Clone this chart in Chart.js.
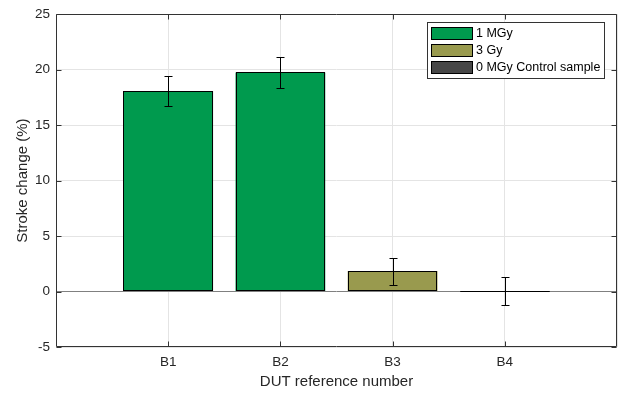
<!DOCTYPE html>
<html>
<head>
<meta charset="utf-8">
<script src="https://cdn.jsdelivr.net/npm/chart.js@4.4.1/dist/chart.umd.min.js"></script>
<style>
  html, body { margin: 0; padding: 0; background: #fff; }
  #wrap { width: 624px; height: 395px; }
</style>
</head>
<body>
<div id="wrap"><canvas id="chart" width="624" height="395"></canvas></div>
<script>
var categories = ['B1', 'B2', 'B3', 'B4'];
var strokeChange = [18.08, 19.74, 1.84, 0.03];   // mean stroke change, %
var strokeError = [1.38, 1.41, 1.21, 1.27];      // +/- error, %
var seriesNames = ['1 MGy', '3 Gy', '0 MGy Control sample'];
var seriesColors = ['#009a4e', '#999a4e', '#474747'];
var barSeries = [0, 0, 1, 2];                    // dose series of each DUT
var yTicks = [-5, 0, 5, 10, 15, 20, 25];

var FONT = "'Liberation Sans', Arial, Helvetica, sans-serif";
var AXIS_COLOR = '#333333';
var GRID_COLOR = '#e4e4e4';

Chart.defaults.font.family = FONT;
Chart.defaults.color = '#262626';

// one dataset per dose so the legend gets one entry each; bars sit at x = 1..4
var datasets = seriesNames.map(function (name, s) {
  var pts = [];
  categories.forEach(function (c, i) {
    if (barSeries[i] === s) pts.push({ x: i + 1, y: strokeChange[i] });
  });
  return {
    label: name,
    data: pts,
    backgroundColor: seriesColors[s],
    borderWidth: 0,
    grouped: false,
    barPercentage: 0.8,
    categoryPercentage: 1
  };
});

// black outline around every bar, kept even when the bar is almost flat
var barOutline = {
  id: 'barOutline',
  afterDatasetsDraw: function (chart) {
    var ctx = chart.ctx;
    ctx.save();
    ctx.strokeStyle = '#000000';
    ctx.lineWidth = 1;
    chart.data.datasets.forEach(function (ds, d) {
      chart.getDatasetMeta(d).data.forEach(function (bar) {
        var p = bar.getProps(['x', 'y', 'base', 'width'], true);
        var l = Math.round(p.x - p.width / 2) + 0.5;
        var r = Math.round(p.x + p.width / 2) - 0.5;
        var t = Math.round(Math.min(p.y, p.base)) + 0.5;
        var b = Math.round(Math.max(p.y, p.base)) - 0.5;
        if (b < t) b = t;
        ctx.strokeRect(l, t, r - l, b - t);
      });
    });
    ctx.restore();
  }
};

// error bars drawn over the bars
var errorBars = {
  id: 'errorBars',
  afterDatasetsDraw: function (chart) {
    var ctx = chart.ctx, xs = chart.scales.x, ys = chart.scales.y;
    ctx.save();
    ctx.strokeStyle = '#000000';
    ctx.lineWidth = 1;
    strokeChange.forEach(function (v, i) {
      var x = Math.round(xs.getPixelForValue(i + 1)) + 0.5;
      var yt = Math.round(ys.getPixelForValue(v + strokeError[i])) + 0.5;
      var yb = Math.round(ys.getPixelForValue(v - strokeError[i])) + 0.5;
      ctx.beginPath();
      ctx.moveTo(x, yt); ctx.lineTo(x, yb);
      ctx.moveTo(x - 4, yt); ctx.lineTo(x + 4, yt);
      ctx.moveTo(x - 4, yb); ctx.lineTo(x + 4, yb);
      ctx.stroke();
    });
    ctx.restore();
  }
};

// closed axes box with inward ticks on all four sides
var axesBox = {
  id: 'axesBox',
  afterDatasetsDraw: function (chart) {
    var ctx = chart.ctx, a = chart.chartArea, xs = chart.scales.x, ys = chart.scales.y;
    var L = Math.round(a.left) + 0.5, R = Math.round(a.right) - 0.5;
    var T = Math.round(a.top) + 0.5, B = Math.round(a.bottom) - 0.5;
    var tl = 5;
    ctx.save();
    ctx.strokeStyle = AXIS_COLOR;
    ctx.lineWidth = 1;
    ctx.beginPath();
    ctx.rect(L, T, R - L, B - T);
    yTicks.forEach(function (t) {
      var y = Math.round(ys.getPixelForValue(t)) + 0.5;
      ctx.moveTo(L, y); ctx.lineTo(L + tl, y);
      ctx.moveTo(R, y); ctx.lineTo(R - tl, y);
    });
    categories.forEach(function (c, i) {
      var x = Math.round(xs.getPixelForValue(i + 1)) + 0.5;
      ctx.moveTo(x, B); ctx.lineTo(x, B - tl);
      ctx.moveTo(x, T); ctx.lineTo(x, T + tl);
    });
    ctx.stroke();
    ctx.restore();
  }
};

// legend box in the upper right corner of the axes
var boxLegend = {
  id: 'boxLegend',
  afterDraw: function (chart) {
    var ctx = chart.ctx;
    var bx = 427.5, by = 22.5, bw = 177, bh = 56;
    ctx.save();
    ctx.fillStyle = '#ffffff';
    ctx.fillRect(bx, by, bw, bh);
    ctx.strokeStyle = AXIS_COLOR;
    ctx.lineWidth = 1;
    ctx.strokeRect(bx, by, bw, bh);
    ctx.font = '12.5px ' + FONT;
    ctx.textBaseline = 'middle';
    ctx.textAlign = 'left';
    chart.data.datasets.forEach(function (ds, i) {
      var sy = 27.5 + i * 17;
      ctx.fillStyle = ds.backgroundColor;
      ctx.fillRect(432, sy, 41, 12);
      ctx.strokeStyle = '#000000';
      ctx.strokeRect(431.5, sy, 41, 12);
      ctx.fillStyle = '#000000';
      ctx.fillText(ds.label, 476, sy + 6.5);
    });
    ctx.restore();
  }
};

new Chart(document.getElementById('chart'), {
  type: 'bar',
  data: { datasets: datasets },
  options: {
    responsive: false,
    animation: false,
    layout: { padding: { top: 10, right: 7, left: 0, bottom: 0 } },
    plugins: {
      legend: { display: false },
      tooltip: { enabled: false }
    },
    scales: {
      x: {
        type: 'linear',
        min: 0,
        max: 5,
        offset: false,
        grid: { offset: false, color: GRID_COLOR, drawTicks: false },
        border: { display: false },
        ticks: {
          stepSize: 1,
          autoSkip: false,
          maxRotation: 0,
          padding: 7,
          font: { size: 13.5 },
          color: '#262626',
          callback: function (v) { return categories[v - 1] || ''; }
        },
        title: {
          display: true,
          text: 'DUT reference number',
          font: { size: 15 },
          color: '#262626',
          padding: { top: 0, bottom: 4 }
        },
        afterFit: function (scale) { scale.height = 48; }
      },
      y: {
        min: -5,
        max: 25,
        grid: {
          drawTicks: false,
          color: function (c) { return c.tick && c.tick.value === 0 ? '#808080' : GRID_COLOR; }
        },
        border: { display: false },
        ticks: {
          stepSize: 5,
          padding: 6,
          font: { size: 13.5 },
          color: '#262626'
        },
        title: {
          display: true,
          text: 'Stroke change (%)',
          font: { size: 15 },
          color: '#262626',
          padding: { top: 14, bottom: 0 }
        },
        afterFit: function (scale) { scale.width = 56; }
      }
    }
  },
  plugins: [barOutline, errorBars, axesBox, boxLegend]
});
</script>
</body>
</html>
